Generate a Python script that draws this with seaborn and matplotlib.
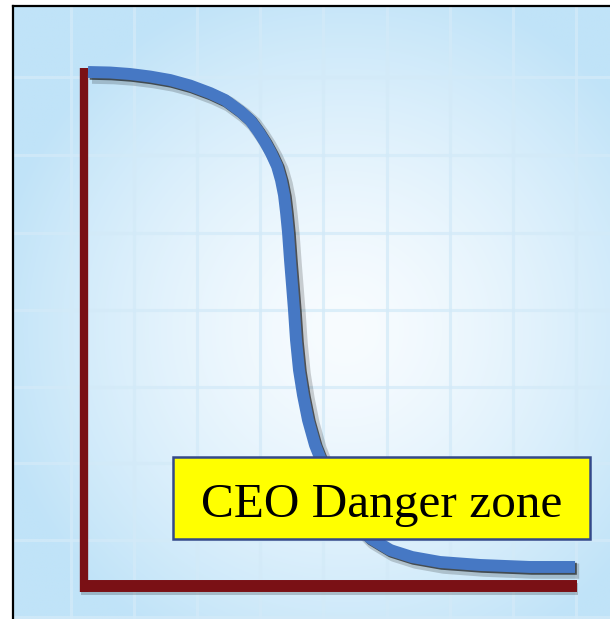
import numpy as np
import pandas as pd
import matplotlib
matplotlib.use("Agg")
import matplotlib.pyplot as plt
import matplotlib.patheffects as pe
from matplotlib.patches import Rectangle
import seaborn as sns

# ---- data (x: 0..100 along the horizontal axis, y: 0..100 height) ----
x_vals = [0.81, 5.28, 9.35, 13.41, 17.48, 21.54, 25.61, 28.66, 31.71, 33.74,
          35.37, 36.79, 38.01, 39.23, 40.04, 40.65, 41.06, 41.46, 41.87, 42.28,
          42.68, 43.09, 43.70, 44.51, 45.53, 46.95, 48.98, 51.42, 54.47, 58.13,
          62.20, 66.67, 72.36, 80.49, 90.65, 99.80]
y_vals = [100.0, 99.90, 99.61, 99.12, 98.44, 97.37, 95.91, 94.55, 92.41, 90.66,
          88.52, 86.38, 84.24, 81.71, 78.99, 76.07, 72.76, 68.87, 63.42, 58.56,
          53.70, 47.86, 42.02, 37.16, 32.30, 27.43, 22.57, 17.70, 12.84, 9.34,
          7.00, 5.64, 4.67, 4.09, 3.70, 3.70]
label_text = "CEO Danger zone"
grid_x = [-2.6, 10.2, 23.0, 35.8, 48.6, 61.6, 74.4, 87.2, 100.0]
grid_y = [-6.0, 8.9, 23.9, 38.7, 53.7, 68.7, 83.9, 99.0]

df = pd.DataFrame({"x": x_vals, "y": y_vals})

sns.set_theme(style="white")
fig = plt.figure(figsize=(6.10, 6.19), dpi=100)
fig.patch.set_facecolor("white")

# axes occupies region inside the black frame (pixels x 13..610, y 6..619)
W, H = 610.0, 619.0
ax = fig.add_axes([13 / W, 0, (W - 13) / W, (H - 6) / H])

# data <-> pixel layout
sx, sy = 4.92, 5.14
x0p, y0p = 84.0, 586.0
xmin, xmax = (13 - x0p) / sx, (W - x0p) / sx
ymin, ymax = (y0p - H) / sy, (y0p - 6) / sy
ax.set_xlim(xmin, xmax)
ax.set_ylim(ymin, ymax)

# background radial gradient
ny, nx = 300, 300
gx = np.linspace(13, W, nx)
gy = np.linspace(6, H, ny)
GX, GY = np.meshgrid(gx, gy)
r = np.sqrt(((GX - 345) / 360) ** 2 + ((GY - 330) / 360) ** 2)
t = np.clip(r, 0, 1) ** 1.4
c_in = np.array([248, 252, 255]) / 255
c_out = np.array([192, 227, 248]) / 255
img = c_in[None, None, :] * (1 - t[..., None]) + c_out[None, None, :] * t[..., None]
ax.imshow(img, extent=[xmin, xmax, ymin, ymax], origin="upper",
          aspect="auto", zorder=0, interpolation="bilinear")

# grid
ax.set_xticks(grid_x)
ax.set_yticks(grid_y)
ax.set_axisbelow(True)
ax.grid(True, color="#d3eaf8", linewidth=2.2, alpha=0.75)
ax.tick_params(length=0, labelbottom=False, labelleft=False)

# frame
for s in ["right", "bottom"]:
    ax.spines[s].set_visible(False)
for s in ["left", "top"]:
    ax.spines[s].set_color("black")
    ax.spines[s].set_linewidth(1.6)

# red axes
red = "#7a1015"
ax.vlines(0, -1.2, 100.8, color=red, linewidth=6.0, zorder=3,
          capstyle="butt")
ax.hlines(0, -0.8, 100.2, color=red, linewidth=8.6, zorder=3,
          path_effects=[pe.SimpleLineShadow(offset=(0.5, -2.5), shadow_color="black", alpha=0.2),
                        pe.Normal()])

# curve
sns.lineplot(data=df, x="x", y="y", ax=ax, color="#4678c4", linewidth=8.6,
             solid_capstyle="butt", solid_joinstyle="round", zorder=4,
             path_effects=[pe.SimpleLineShadow(offset=(3, -3), shadow_color="black", alpha=0.18, linewidth=11),
                           pe.SimpleLineShadow(offset=(1.3, -1.3), shadow_color="black", alpha=0.6),
                           pe.Normal()])
ax.set_xlabel("")
ax.set_ylabel("")

# label box
bx0, bx1 = (173 - x0p) / sx, (590 - x0p) / sx
by0, by1 = (y0p - 539) / sy, (y0p - 457) / sy
ax.add_patch(Rectangle((bx0, by0), bx1 - bx0, by1 - by0, facecolor="#ffff00",
                       edgecolor="#34498a", linewidth=1.8, zorder=5))
ax.text((bx0 + bx1) / 2, (y0p - 517) / sy, label_text, ha="center", va="baseline",
        fontsize=35.5, family="Liberation Serif", color="black", zorder=6)

fig.savefig("out.png", dpi=100)
